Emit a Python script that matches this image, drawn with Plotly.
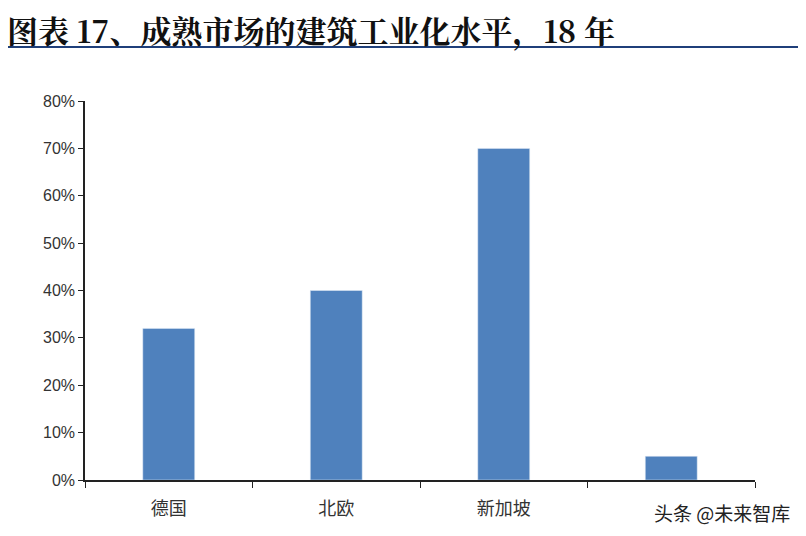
import plotly.graph_objects as go

categories = ["德国", "北欧", "新加坡", "中国"]
values = [0.32, 0.40, 0.70, 0.05]
title_text = "<b>图表 17、成熟市场的建筑工业化水平，18 年</b>"

# page has 8px body margin, so figure coordinates = screen - 8
O = 8
W, H = 806 - 2 * O, 536 - 2 * O
L, R, T, B = 85 - O, 51 - O, 101 - O, 56 - O
ph = H - T - B
pw = W - L - R
def py(p):
    return (H - B - (p - O)) / ph
def pxx(x):
    return ((x - O) - L) / pw

fig = go.Figure(go.Bar(x=categories, y=values, marker_color="#4F81BD", width=0.31))
fig.update_layout(
    width=W, height=H, plot_bgcolor="white", paper_bgcolor="white",
    margin=dict(l=L, r=R, t=T, b=B), showlegend=False,
    font=dict(family="Noto Sans CJK SC", color="#333333"),
    yaxis=dict(range=[0, 0.8], dtick=0.1, tickformat=".0%", showgrid=False, automargin=False,
               showline=True, linecolor="#222", linewidth=1.5, ticks="outside",
               ticklen=5, tickcolor="#222", tickfont=dict(size=16, family="Liberation Sans Narrow, Liberation Sans")),
    xaxis=dict(showline=True, linecolor="#222", linewidth=1.5, ticks="outside", automargin=False,
               tickson="boundaries", ticklen=6, tickcolor="#222", ticklabelstandoff=12,
               tickfont=dict(size=18, family="Noto Sans CJK SC")),
    annotations=[
        dict(text=title_text, x=pxx(5), y=py(30), xref="paper", yref="paper",
             xanchor="left", yanchor="middle", showarrow=False,
             font=dict(size=31, family="Noto Serif CJK SC, Noto Sans CJK SC", color="#111")),
        dict(text="头条 @未来智库", x=pxx(792), y=py(512), xref="paper", yref="paper",
             xanchor="right", yanchor="middle", showarrow=False, bgcolor="white",
             font=dict(size=19, family="Noto Sans CJK SC", color="#222")),
    ],
    shapes=[
        dict(type="line", xref="paper", yref="paper", x0=pxx(0), x1=pxx(806),
             y0=py(47), y1=py(47), line=dict(color="#1F3F7A", width=2)),
    ],
)
fig.write_html("out.html")
